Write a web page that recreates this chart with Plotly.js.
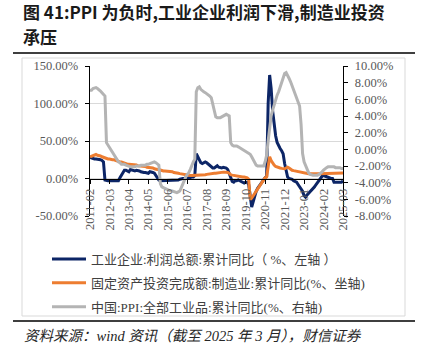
<!DOCTYPE html>
<html>
<head>
<meta charset="utf-8">
<script src="https://cdn.plot.ly/plotly-3.0.1.min.js"></script>
<style>
html,body{margin:0;padding:0;background:#fff;}
#chart{width:426px;height:355px;}
</style>
</head>
<body>
<div id="chart"></div>
<script>
// ---------- data (monthly, 2011-02 .. 2025-03) ----------
var startYear = 2011, startMonth = 2, endYear = 2025, endMonth = 3;
var months = [];
for (var y = startYear; y <= endYear; y++) {
  for (var m = 1; m <= 12; m++) {
    if (y === startYear && m < startMonth) continue;
    if (y === endYear && m > endMonth) break;
    months.push(y + '-' + (m < 10 ? '0' + m : m));
  }
}

// 工业企业:利润总额:累计同比 (%, left axis)
var profitYoY = [
  28, 27, 26, 26, 26, 26, 25.5, 25, 24, 22, -2,            // 2011 Feb-Dec
  -3, -3, -3, -3, -3, -3, -3.5, -3.5, -3, 1, 5, 9,           // 2012
  11, 11, 10, 9, 12, 11, 10, 10, 11, 11, 10, 9,              // 2013
  8, 8, 8, 8, 7, 9, 9, 8, 7, 4, 1, -2,                       // 2014
  -3, -3, -3, -3, -2.5, -3, -3, -3, -3, -3, -3, -3,          // 2015
  -2, -1, 0, 0, 0, 1, 0, 1, 1, 2, 2, 4,                      // 2016
  33, 29, 24, 21, 20, 21, 22, 21, 19, 18, 16, 14,            // 2017
  14, 16, 17, 15, 14, 14, 15, 15, 14, 12, 6, 1,              // 2018
  -4, -5, -3, -3, -2, -3, -4, -5, -6, -5, -5, -8,            // 2019
  -22, -38, -31, -23, -17, -13, -10, -7, -4, -1, 1, 3,       // 2020
  100, 138, 120, 90, 70, 57, 48, 43, 40, 37, 33, 20,         // 2021
  8, 2, 0, 0, -1, -3, -4, -5, -8, -11, -13, -17,             // 2022
  -23, -25, -22, -20, -17, -15, -13, -11, -8, -5, -2, 1,     // 2023
  3, 4, 3, 2, 1, 1, 0, 0, -5, -5, -5, -5,                    // 2024
  -5, -5, -3                                                 // 2025 Jan-Mar
];

// 固定资产投资完成额:制造业:累计同比 (%, left axis)
var mfgInvYoY = [
  29, 30, 31, 32, 32, 31, 31, 30, 29, 28, 27,                // 2011 Feb-Dec
  26, 26, 26, 25, 25, 25, 24, 24, 23, 22, 22, 21,            // 2012
  20, 20, 19, 19, 19, 18, 18, 18, 18, 17, 17, 17,            // 2013
  16, 16, 16, 15, 15, 15, 14, 14, 13, 12, 12, 12,            // 2014
  11, 11, 10, 10, 10, 9, 9, 9, 9, 8, 8, 8,                   // 2015
  7, 6.5, 6, 5.5, 5, 4.5, 4.5, 4, 4, 4, 4, 4,                // 2016
  4, 4, 4, 4, 4.5, 5, 5, 5.5, 6, 6, 6, 6.5,                  // 2017
  7, 7, 7.5, 8, 8, 8.5, 8.5, 8.5, 8.5, 8, 7, 5,              // 2018
  4.5, 4, 3.5, 3, 3, 2.5, 2, 2, 2, 1.5, 1, -1,               // 2019
  -28, -26, -23, -20, -16, -13, -10, -7, -5, -1, 1, 2,       // 2020
  15, 29, 24, 20, 18, 16, 15, 14.5, 14, 13.5, 13, 13,        // 2021
  14, 15, 14, 12, 11, 10.5, 10, 9.5, 9, 8.5, 8.4, 8,         // 2022
  7.5, 7, 7, 6.5, 6.5, 6.3, 6.3, 6.3, 6.3, 6.5, 6.5, 6.5,    // 2023
  7, 7, 7.5, 7.5, 7.5, 7.5, 7.5, 7.5, 7.5, 7.5, 7.5, 7.5,    // 2024
  7.5, 7.5, 7.5                                              // 2025 Jan-Mar
];

// 中国:PPI:全部工业品:累计同比 (%, right axis)
var ppiYoY = [
  7.1, 7.1, 7.3, 7.4, 7.4, 7.3, 7.2, 7.0, 6.8, 6.6, 6.4,                 // 2011 Feb-Dec
  0.8, 0.5, 0.2, 0.0, -0.3, -0.7, -1.0, -1.3, -1.5, -1.6, -1.8, -1.8,    // 2012
  -1.8, -1.9, -2.0, -2.0, -2.1, -2.1, -2.1, -2.1, -2.0, -2.0, -2.0, -1.9,// 2013
  -1.9, -1.9, -1.9, -1.8, -1.8, -1.7, -1.6, -1.5, -1.5, -1.6, -1.8, -1.9,// 2014
  -4.1, -4.5, -4.6, -4.7, -4.7, -4.8, -4.9, -5.0, -5.0, -5.1, -5.2, -5.2,// 2015
  -5.1, -5.0, -4.6, -4.1, -3.7, -3.3, -3.0, -2.8, -2.4, -1.9, -1.5, -1.2,// 2016
  6.9, 7.4, 7.5, 7.2, 7.0, 6.9, 6.8, 6.7, 6.6, 6.4, 6.2, 5.4,            // 2017
  4.3, 3.9, 3.8, 3.8, 3.8, 3.9, 4.0, 4.1, 4.2, 4.1, 4.0, 0.8,            // 2018
  0.5, 0.4, 0.4, 0.4, 0.3, 0.2, 0.1, 0.0, -0.1, -0.2, -0.3, -0.5,        // 2019
  -0.6, -0.9, -1.3, -1.6, -1.9, -2.0, -2.0, -2.0, -2.0, -2.0, -1.5, -0.7,// 2020
  1.0, 2.8, 4.0, 4.7, 5.4, 6.0, 6.5, 6.9, 7.5, 8.0, 8.6, 9.1,            // 2021
  9.2, 8.9, 8.5, 8.1, 7.6, 7.2, 6.8, 6.3, 5.8, 5.2, 3.0, -0.5,           // 2022
  -1.5, -2.0, -2.5, -2.8, -3.0, -3.1, -3.1, -3.1, -3.1, -3.1, -3.0, -2.9,// 2023
  -2.7, -2.5, -2.3, -2.2, -2.1, -2.1, -2.1, -2.1, -2.1, -2.2, -2.2, -2.2,// 2024
  -2.2, -2.3, -2.3                                                       // 2025 Jan-Mar
];

var xTickLabels = ['2011-02','2012-03','2013-04','2014-05','2015-06','2016-07','2017-08',
                   '2018-09','2019-10','2020-11','2021-12','2023-01','2024-02','2025-03'];
var leftTicks = [-50, 0, 50, 100, 150];
var rightTicks = [-8, -6, -4, -2, 0, 2, 4, 6, 8, 10];

var seriesNames = [
  '工业企业:利润总额:累计同比（ %、左轴 ）',
  '固定资产投资完成额:制造业:累计同比(%、坐轴)',
  '中国:PPI:全部工业品:累计同比(%、右轴)'
];
var titleLine1 = '图 41:PPI 为负时,工业企业利润下滑,制造业投资';
var titleLine2 = '承压';
var sourceText = '资料来源：wind 资讯（截至 2025 年 3 月），财信证券';

// ---------- layout helpers (pixel -> paper) ----------
var W = 426, H = 355, ML = 90, MR = 83, MT = 66, MB = 139;
var PW = W - ML - MR, PH = H - MT - MB;
function px(x) { return (x - ML) / PW; }
function py(y) { return (H - MB - y) / PH; }

var serif = '"Times New Roman", "Liberation Serif", "Noto Sans CJK SC", serif';
var legendFont = '"Times New Roman", "Liberation Serif", "Noto Sans CJK SC", sans-serif';
var titleFont = { family: '"Noto Sans CJK SC", sans-serif', size: 17, color: '#1a1a1a', weight: 'bold' };

function fmt(v) { return v.toFixed(2) + '%'; }

var traces = [
  { x: months, y: profitYoY, name: seriesNames[0], type: 'scatter', mode: 'lines',
    line: { color: '#0C2566', width: 3 }, legendgroup: 'a', yaxis: 'y' },
  { x: months, y: mfgInvYoY, name: seriesNames[1], type: 'scatter', mode: 'lines',
    line: { color: '#ED7D31', width: 3 }, legendgroup: 'b', yaxis: 'y' },
  { x: months, y: ppiYoY, name: seriesNames[2], type: 'scatter', mode: 'lines',
    line: { color: '#B4B4B4', width: 3 }, legendgroup: 'c', yaxis: 'y2' }
];

var layout = {
  width: W, height: H,
  margin: { l: ML, r: MR, t: MT, b: MB, pad: 0 },
  paper_bgcolor: '#fff', plot_bgcolor: 'rgba(0,0,0,0)',
  showlegend: true,
  xaxis: {
    type: 'category', range: [0, months.length - 1],
    anchor: 'free', position: 0.25,
    tickmode: 'array', tickvals: xTickLabels, ticktext: xTickLabels,
    tickangle: -90, ticks: 'outside', ticklen: 4, tickcolor: '#000',
    showline: true, linecolor: '#000', linewidth: 1.3,
    showgrid: false, zeroline: false,
    tickfont: { family: serif, size: 12.5, color: '#595959' }
  },
  yaxis: {
    range: [-50, 150], tickmode: 'array', tickvals: leftTicks, ticktext: leftTicks.map(fmt),
    showgrid: true, gridcolor: '#d9d9d9', gridwidth: 1, zeroline: false,
    showline: true, linecolor: '#000', linewidth: 1.3,
    ticks: 'outside', ticklen: 4, tickcolor: '#000', ticklabelstandoff: 4,
    tickfont: { family: serif, size: 12.5, color: '#595959' }
  },
  yaxis2: {
    range: [-8, 10], overlaying: 'y', side: 'right', anchor: 'x',
    tickmode: 'array', tickvals: rightTicks, ticktext: rightTicks.map(fmt),
    showgrid: false, zeroline: false,
    showline: true, linecolor: '#000', linewidth: 1.3,
    ticks: 'outside', ticklen: 4, tickcolor: '#000', ticklabelstandoff: 4,
    tickfont: { family: serif, size: 12.5, color: '#595959' }
  },
  legend: {
    x: px(47), y: py(244), xanchor: 'left', yanchor: 'top',
    bgcolor: 'rgba(0,0,0,0)', borderwidth: 0,
    traceorder: 'grouped', tracegroupgap: 4, itemwidth: 34,
    font: { family: legendFont, size: 13, color: '#404040' }
  },
  annotations: [
    { text: titleLine1, xref: 'paper', yref: 'paper', x: px(21), y: py(12),
      xanchor: 'left', yanchor: 'middle', align: 'left', showarrow: false, font: titleFont },
    { text: titleLine2, xref: 'paper', yref: 'paper', x: px(21), y: py(36),
      xanchor: 'left', yanchor: 'middle', align: 'left', showarrow: false, font: titleFont },
    { text: sourceText, xref: 'paper', yref: 'paper', x: px(22), y: py(336),
      xanchor: 'left', yanchor: 'middle', showarrow: false,
      font: { family: serif, size: 14.5, color: '#262626', style: 'italic' } }
  ],
  shapes: [
    { type: 'line', xref: 'paper', yref: 'paper', x0: px(13), x1: px(415), y0: py(53), y1: py(53),
      line: { color: '#3f3f3f', width: 2 } },
    { type: 'line', xref: 'paper', yref: 'paper', x0: px(13), x1: px(415), y0: py(321), y1: py(321),
      line: { color: '#3f3f3f', width: 2 } },
    { type: 'rect', xref: 'paper', yref: 'paper', x0: px(22), x1: px(405), y0: py(58), y1: py(316),
      line: { color: '#d9d9d9', width: 1 }, layer: 'below' }
  ]
};

Plotly.newPlot('chart', traces, layout, { staticPlot: true, displayModeBar: false });
</script>
</body>
</html>
